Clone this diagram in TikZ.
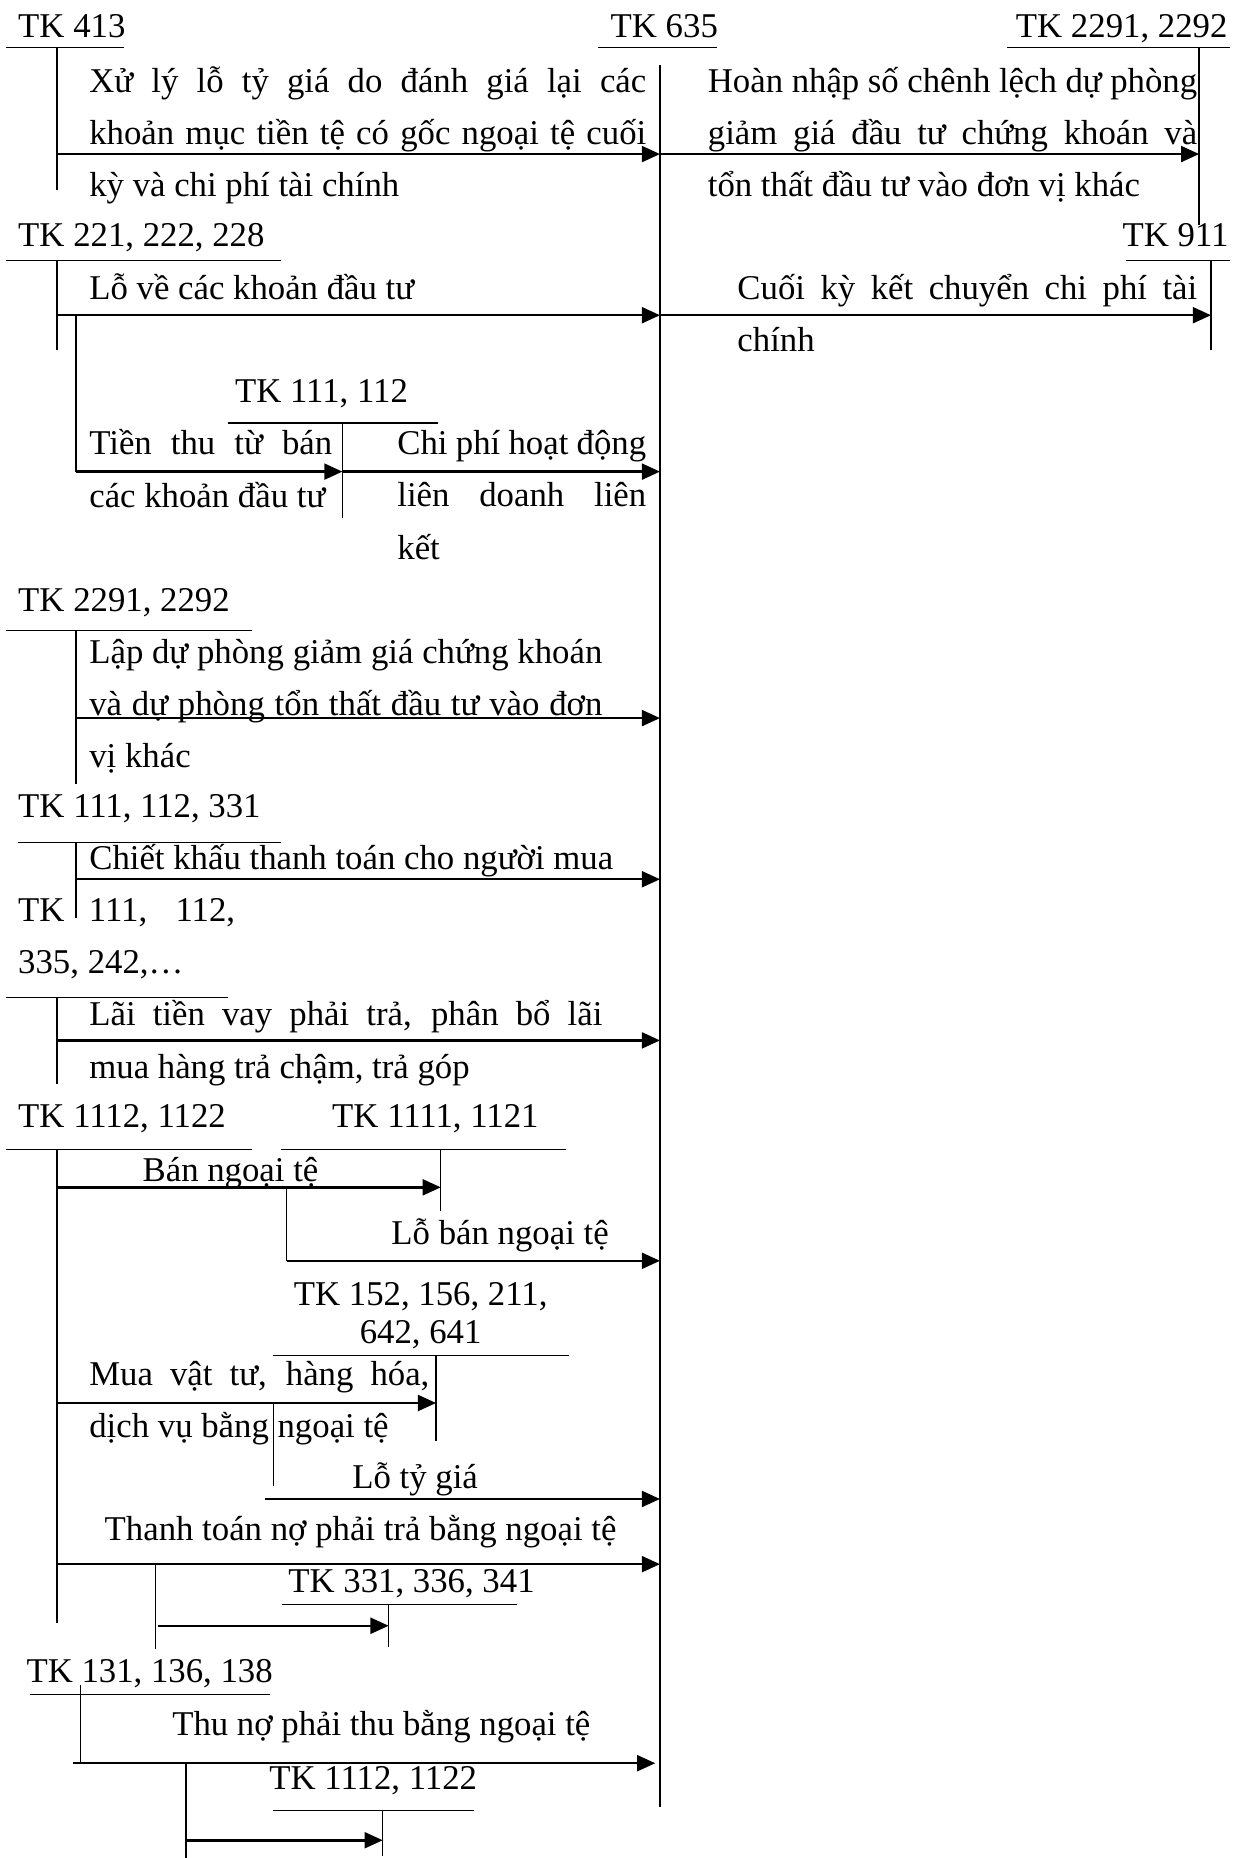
\documentclass[tikz,border=0pt]{standalone}
\usepackage{fontspec}
\setmainfont{Liberation Serif}
\usetikzlibrary{arrows.meta,positioning,calc}

\newlength{\pxu}
\setlength{\pxu}{0.5215pt}
% justified line, width in picture units
\newcommand{\jl}[2]{\makebox[#1\pxu][s]{#2}}

\tikzset{
  acct/.style={anchor=base west, inner sep=0pt, yshift=-1pt},
  note/.style={anchor=base west, inner sep=0pt, align=left, yshift=-1pt},
  tline/.style={line width=0.6pt},
  flow/.style={line width=1.1pt, -{Triangle[length=8pt, width=7pt]}},
}

\begin{document}
\begin{tikzpicture}[x=0.5215pt, y=-0.5215pt, font=\fontsize{15.3}{23}\selectfont]
    \useasboundingbox (0,0) rectangle (1044,1568);

    % TK 635 (main account)
    \node[acct] (tk635) at (515,30) {TK 635};
    \coordinate (v635) at (557,55);
    \draw[tline] (505,40) -- (605,40);
    \draw[tline] (v635) -- (557,1525);

    % TK 413
    \node[acct] (tk413) at (15,30) {TK 413};
    \draw[tline] (5,40) -- (105,40);
    \draw[tline] (48,40) -- (48,160);
    \coordinate (a413) at (48,130);
    \draw[flow] (a413) -- (a413 -| v635);
    \node[note] (n413) at (75,164) {\jl{470}{Xử lý lỗ tỷ giá do đánh giá lại các}\\
        \jl{470}{khoản mục tiền tệ có gốc ngoại tệ cuối}\\ kỳ và chi phí tài chính};

    % TK 2291, 2292 (hoàn nhập)
    \node[acct] (tk229r) at (857,30) {TK 2291, 2292};
    \coordinate (v229r) at (1012,40);
    \draw[tline] (850,40) -- (1038,40);
    \draw[tline] (v229r) -- (1012,190);
    \coordinate (b635) at (557,130);
    \draw[flow] (b635) -- (b635 -| v229r);
    \node[note] (n229r) at (597,164) {\jl{413}{Hoàn nhập số chênh lệch dự phòng}\\
        \jl{413}{giảm giá đầu tư chứng khoán và}\\ tổn thất đầu tư vào đơn vị khác};

    % TK 221, 222, 228
    \node[acct] (tk221) at (15,206) {TK 221, 222, 228};
    \draw[tline] (5,220) -- (237,220);
    \draw[tline] (48,220) -- (48,295);
    \coordinate (a221) at (48,266);
    \draw[flow] (a221) -- (a221 -| v635);
    \node[note] (n221) at (75,251) {Lỗ về các khoản đầu tư};
    \draw[tline] (64,266) -- (64,398);

    % TK 911
    \node[acct] (tk911) at (947,206) {TK 911};
    \coordinate (v911) at (1022,220);
    \draw[tline] (950,220) -- (1038,220);
    \draw[tline] (v911) -- (1022,295);
    \coordinate (c635) at (557,266);
    \draw[flow] (c635) -- (c635 -| v911);
    \node[note] (n911) at (622,295) {\jl{388}{Cuối kỳ kết chuyển chi phí tài}\\ chính};

    % TK 111, 112
    \node[acct] (tk111) at (198,338) {TK 111, 112};
    \coordinate (v111) at (289,357);
    \draw[tline] (192,357) -- (370,357);
    \draw[tline] (v111) -- (289,437);
    \coordinate (a111) at (64,398);
    \draw[flow] (a111) -- (a111 -| v111);
    \node[note] (n111a) at (75,426) {\jl{205}{Tiền thu từ bán}\\ các khoản đầu tư};
    \coordinate (b111) at (289,398);
    \draw[flow] (b111) -- (b111 -| v635);
    \node[note] (n111b) at (335,470) {\jl{210}{Chi phí hoạt động}\\
        \jl{210}{liên doanh liên}\\ kết};

    % TK 2291, 2292 (lập dự phòng)
    \node[acct] (tk229l) at (15,514) {TK 2291, 2292};
    \draw[tline] (5,532) -- (213,532);
    \draw[tline] (64,532) -- (64,662);
    \coordinate (a229l) at (64,606);
    \draw[flow] (a229l) -- (a229l -| v635);
    \node[note] (n229l) at (75,646) {\jl{433}{Lập dự phòng giảm giá chứng khoán}\\
        \jl{433}{và dự phòng tổn thất đầu tư vào đơn}\\ vị khác};

    % TK 111, 112, 331
    \node[acct] (tk331) at (15,688) {TK 111, 112, 331};
    \draw[tline] (15,711) -- (237,711);
    \draw[tline] (64,711) -- (64,775);
    \coordinate (a331) at (64,742);
    \draw[flow] (a331) -- (a331 -| v635);
    \node[note] (n331) at (75,732) {Chiết khấu thanh toán cho người mua};

    % TK 111, 112, 335, 242
    \node[note] (tk335) at (15,820) {\jl{183}{TK 111, 112,}\\ 335, 242,…};
    \draw[tline] (5,842) -- (192,842);
    \draw[tline] (48,842) -- (48,915);
    \coordinate (a335) at (48,878);
    \draw[flow] (a335) -- (a335 -| v635);
    \node[note] (n335) at (75,908) {\jl{433}{Lãi tiền vay phải trả, phân bổ lãi}\\
        mua hàng trả chậm, trả góp};

    % TK 1112, 1122 and TK 1111, 1121
    \node[acct] (tk1112) at (15,950) {TK 1112, 1122};
    \draw[tline] (5,970) -- (213,970);
    \draw[tline] (48,970) -- (48,1370);
    \node[acct] (tk1111) at (280,950) {TK 1111, 1121};
    \coordinate (v1111) at (372,970);
    \draw[tline] (237,970) -- (478,970);
    \draw[tline] (v1111) -- (372,1022);
    \coordinate (a1112) at (48,1002);
    \draw[flow] (a1112) -- (a1112 -| v1111);
    \node[acct] (nban) at (120,995) {Bán ngoại tệ};
    \draw[tline] (242,1002) -- (242,1064);
    \coordinate (a1111) at (242,1064);
    \draw[flow] (a1111) -- (a1111 -| v635);
    \node[acct] (nloban) at (330,1048) {Lỗ bán ngoại tệ};

    % TK 152, 156, 211, 642, 641
    \node[anchor=base, inner sep=0pt, align=center, yshift=-1pt,
        font=\fontsize{15.3}{16.7}\selectfont]
        (tk152) at (355,1132) {TK 152, 156, 211,\\ 642, 641};
    \coordinate (v152) at (368,1144);
    \draw[tline] (230,1144) -- (480,1144);
    \draw[tline] (v152) -- (368,1216);
    \coordinate (b1112) at (48,1184);
    \draw[flow] (b1112) -- (b1112 -| v152);
    \node[note] (nmua) at (75,1211) {\jl{287}{Mua vật tư, hàng hóa,}\\ dịch vụ bằng ngoại tệ};
    \draw[tline] (231,1184) -- (231,1254);
    \coordinate (a152) at (224,1265);
    \draw[flow] (a152) -- (a152 -| v635);
    \node[acct] (nloty) at (297,1254) {Lỗ tỷ giá};

    % TK 331, 336, 341
    \node[acct] (nthanh) at (88,1298) {Thanh toán nợ phải trả bằng ngoại tệ};
    \coordinate (c1112) at (48,1320);
    \draw[flow] (c1112) -- (c1112 -| v635);
    \draw[tline] (131,1320) -- (131,1392);
    \node[acct] (tk336) at (243,1342) {TK 331, 336, 341};
    \coordinate (v336) at (328,1354);
    \draw[tline] (238,1354) -- (436,1354);
    \draw[tline] (v336) -- (328,1390);
    \coordinate (a336) at (133,1372);
    \draw[flow] (a336) -- (a336 -| v336);

    % TK 131, 136, 138
    \node[acct] (tk131) at (22,1418) {TK 131, 136, 138};
    \draw[tline] (25,1430) -- (228,1430);
    \draw[tline] (68,1422) -- (68,1488);
    \node[acct] (nthu) at (145,1463) {Thu nợ phải thu bằng ngoại tệ};
    \coordinate (a131) at (62,1488);
    \draw[flow] (a131) -- (553,1488);
    \draw[tline] (157,1488) -- (157,1568);
    \node[acct] (tk1112b) at (227,1508) {TK 1112, 1122};
    \coordinate (v1112b) at (323,1528);
    \draw[tline] (230,1528) -- (400,1528);
    \draw[tline] (v1112b) -- (323,1566);
    \coordinate (b131) at (157,1553);
    \draw[flow] (b131) -- (b131 -| v1112b);
\end{tikzpicture}
\end{document}
